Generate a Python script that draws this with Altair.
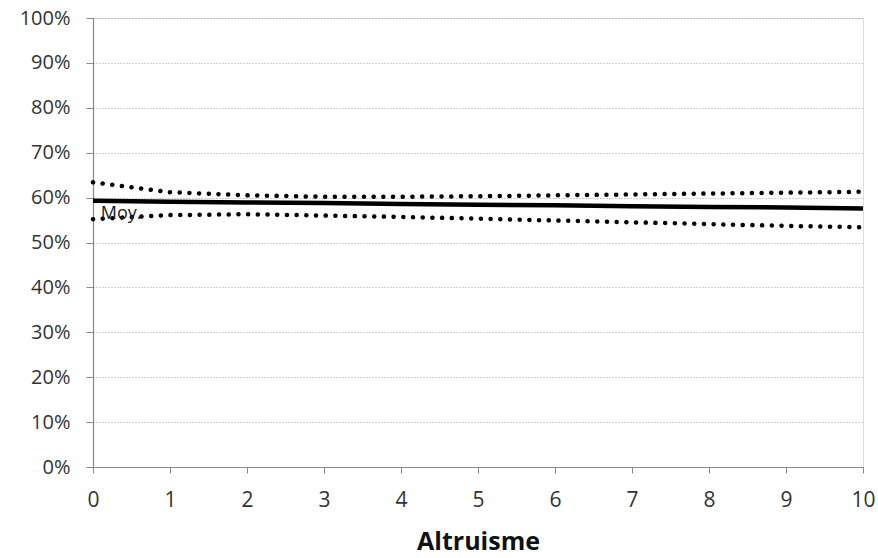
import altair as alt
import pandas as pd

x_vals = [0, 1, 2, 3, 4, 5, 6, 7, 8, 9, 10]
mean_vals = [0.593, 0.591, 0.589, 0.588, 0.586, 0.584, 0.583, 0.581, 0.579, 0.578, 0.576]
upper_vals = [0.634, 0.612, 0.605, 0.602, 0.602, 0.603, 0.605, 0.607, 0.609, 0.611, 0.613]
lower_vals = [0.552, 0.561, 0.563, 0.560, 0.557, 0.553, 0.549, 0.545, 0.541, 0.537, 0.534]

mean_df = pd.DataFrame({"x": x_vals, "y": mean_vals})
band_df = pd.DataFrame({
    "x": x_vals * 2,
    "y": upper_vals + lower_vals,
    "s": ["upper"] * len(x_vals) + ["lower"] * len(x_vals),
})

font = "Open Sans"
xscale = alt.Scale(domain=[0, 10], nice=False, zero=False)
yscale = alt.Scale(domain=[0, 1], nice=False)

xaxis = alt.Axis(
    title="Altruisme", values=list(range(11)), format="d", grid=False,
    labelFont=font, labelFontSize=21, labelColor="#333333", labelPadding=16,
    labelFlush=False, labelOverlap=False,
    tickColor="#888888", tickSize=6, domainColor="#888888", domainWidth=1.2,
    titleFont=font, titleFontSize=25, titleFontWeight="bold", titleColor="#111111",
    titlePadding=19,
)
yaxis = alt.Axis(
    title=None, values=[i / 10 for i in range(11)], format=".0%",
    labelFont=font, labelFontSize=20, labelColor="#333333", labelPadding=16,
    labelFlush=False, labelOverlap=False,
    tickColor="#888888", tickSize=7, domainColor="#888888", domainWidth=1.2,
    grid=True, gridColor="#8a8a8a", gridDash=[1, 2], gridWidth=0.8,
)

mean_line = alt.Chart(mean_df).mark_line(color="black", strokeWidth=4.5).encode(
    x=alt.X("x:Q", scale=xscale, axis=xaxis),
    y=alt.Y("y:Q", scale=yscale, axis=yaxis),
)

band = alt.Chart(band_df).mark_line(
    color="black", strokeWidth=4.5, strokeCap="round", strokeDash=[0.1, 9.6]
).encode(
    x=alt.X("x:Q", scale=xscale),
    y=alt.Y("y:Q", scale=yscale),
    detail="s:N",
)

label_df = pd.DataFrame({"x": [0.1], "y": [0.563], "t": ["Moy."]})
label = alt.Chart(label_df).mark_text(
    align="left", baseline="middle", font=font, fontSize=18, color="#222222"
).encode(x=alt.X("x:Q", scale=xscale), y=alt.Y("y:Q", scale=yscale), text="t:N")

chart = alt.layer(mean_line, band, label).properties(
    width=770, height=449,
    autosize=alt.AutoSizeParams(type="none"),
    padding={"left": 93, "top": 18, "right": 15, "bottom": 91},
).configure_view(stroke=None).configure(background="white")

chart.save("out.html", embed_options={"renderer": "svg", "actions": False})
